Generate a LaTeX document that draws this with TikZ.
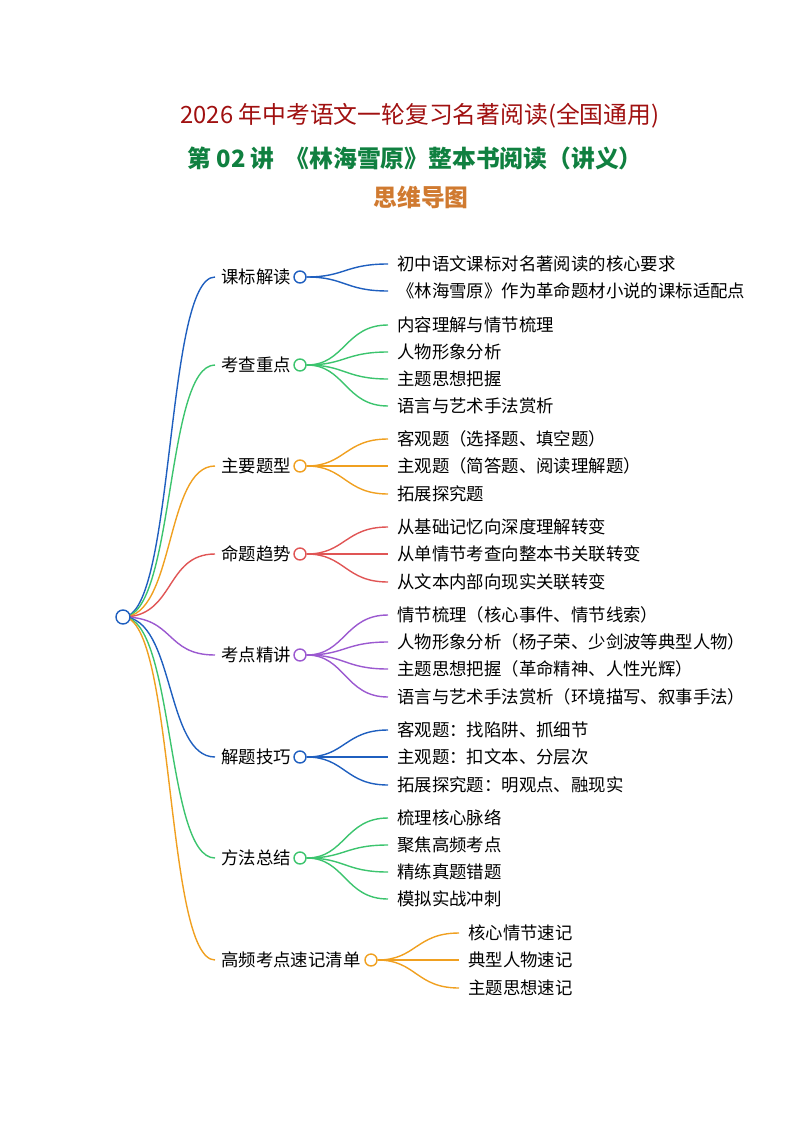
\documentclass[tikz,border=0pt]{standalone}
\usepackage{fontspec}
\setmainfont{Noto Sans CJK SC}
\begin{document}
\begin{tikzpicture}[x=1pt,y=-1pt,
  lbl/.style={anchor=west,inner sep=0pt,font=\fontsize{17.4}{17.5}\selectfont},
  dot/.style={circle,draw,line width=1.4pt,fill=white,minimum size=12pt,inner sep=0pt},
  br/.style={line width=1.4pt}]
\definecolor{cb}{HTML}{1F5FBF}\definecolor{cg}{HTML}{3CC46E}\definecolor{co}{HTML}{F0A020}
\definecolor{cr}{HTML}{E05555}\definecolor{cp}{HTML}{9B59D0}
\useasboundingbox (0,0) rectangle (794,1123);
\node (t1) at (420,116) {\fontsize{23.8}{24}\selectfont\color[HTML]{A01010}2026 年中考语文一轮复习名著阅读(全国通用)};
\node (t2) at (415,158) {\fontsize{23.8}{24}\selectfont\bfseries\color[HTML]{108040}第 02 讲\ \ 《林海雪原》整本书阅读（讲义）};
\node (t3) at (421,197) {\fontsize{23.8}{24}\selectfont\bfseries\color[HTML]{D07A30}思维导图};
\coordinate (root) at (123,617);
\def\branch#1#2#3#4#5#6{%
  \node[lbl] (#1) at (221,#3) {#2};
  \coordinate (#1e) at (215,#3);
  \draw[br,#4] (root) .. controls (175,617) and (165,#3) .. (#1e);
  \node[dot,draw=#4] (#1c) at (#5,#3) {};
  \foreach \yy/\tt [count=\i] in {#6} {
    \node[lbl] (#1l\i) at (\the\numexpr#5+97\relax,\yy) {\tt};
    \coordinate (#1p\i) at (\the\numexpr#5+88\relax,\yy);
    \draw[br,#4] (#1c.east) .. controls (\the\numexpr#5+45\relax,#3) and (\the\numexpr#5+45\relax,\yy) .. (#1p\i);
  }}
\branch{a}{课标解读}{277}{cb}{300}{264/初中语文课标对名著阅读的核心要求,291/《林海雪原》作为革命题材小说的课标适配点}
\branch{b}{考查重点}{365}{cg}{300}{325/内容理解与情节梳理,352/人物形象分析,379/主题思想把握,406/语言与艺术手法赏析}
\branch{c}{主要题型}{466}{co}{300}{439/客观题（选择题、填空题）,466/主观题（简答题、阅读理解题）,494/拓展探究题}
\branch{d}{命题趋势}{554}{cr}{300}{527/从基础记忆向深度理解转变,554/从单情节考查向整本书关联转变,582/从文本内部向现实关联转变}
\branch{e}{考点精讲}{655}{cp}{300}{615/情节梳理（核心事件、情节线索）,642/人物形象分析（杨子荣、少剑波等典型人物）,669/主题思想把握（革命精神、人性光辉）,697/语言与艺术手法赏析（环境描写、叙事手法）}
\branch{f}{解题技巧}{757}{cb}{300}{730/客观题：找陷阱、抓细节,757/主观题：扣文本、分层次,785/拓展探究题：明观点、融现实}
\branch{g}{方法总结}{858}{cg}{300}{818/梳理核心脉络,845/聚焦高频考点,872/精练真题错题,899/模拟实战冲刺}
\branch{h}{高频考点速记清单}{960}{co}{371}{933/核心情节速记,960/典型人物速记,988/主题思想速记}
\node[dot,draw=cb,minimum size=14pt] (rootc) at (root) {};
\end{tikzpicture}
\end{document}
